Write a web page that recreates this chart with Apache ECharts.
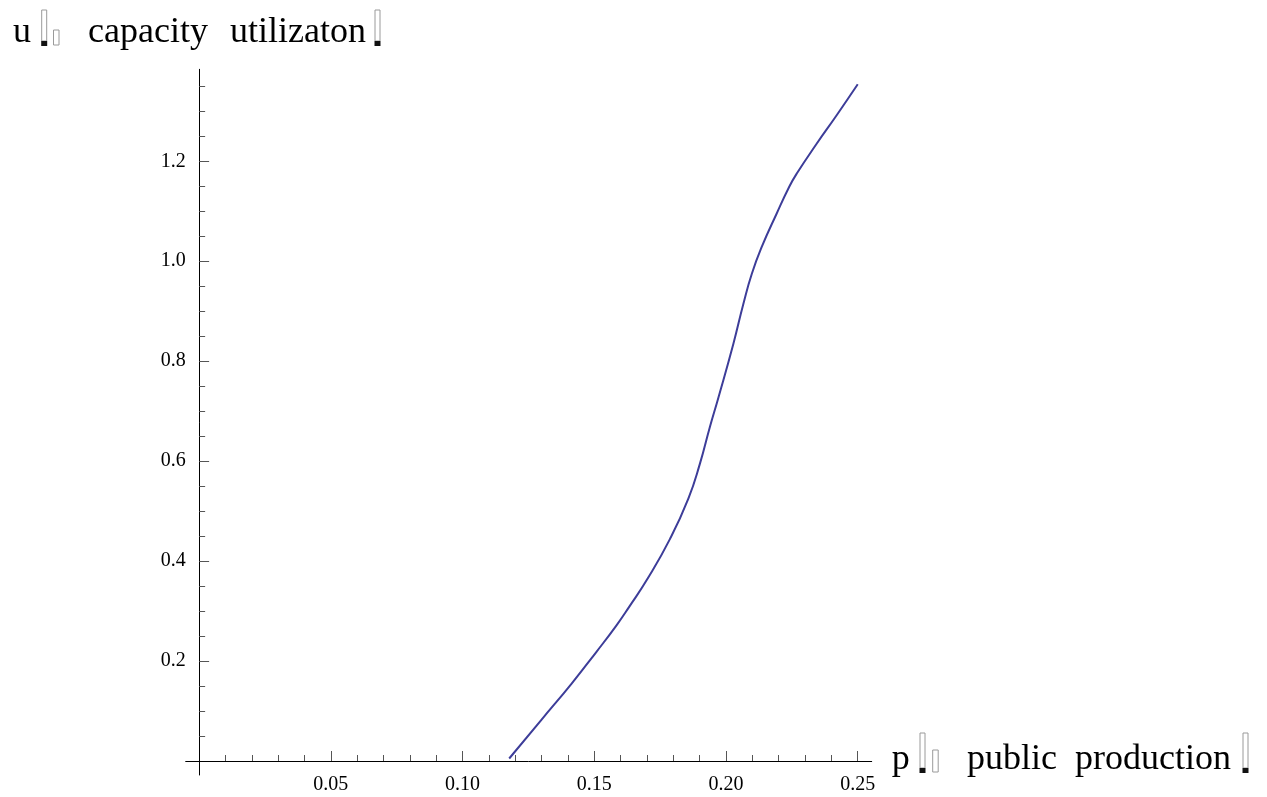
<!DOCTYPE html>
<html>
<head>
<meta charset="utf-8">
<script src="https://cdn.jsdelivr.net/npm/echarts@6/dist/echarts.min.js"></script>
<style>
html,body{margin:0;padding:0;background:#fff;}
#chart{width:1267px;height:797px;}
</style>
</head>
<body>
<div id="chart"></div>
<script>
// p (public production) and u (capacity utilization)
const pValues = [0.1177, 0.130, 0.1414, 0.1509, 0.1585, 0.1633, 0.1699, 0.1787, 0.1857, 0.1901, 0.1939, 0.1971, 0.2028, 0.2066, 0.2098, 0.2136, 0.2192, 0.2240, 0.2268, 0.2344, 0.2420, 0.2500];
const uValues = [0.005, 0.083, 0.155, 0.219, 0.272, 0.309, 0.362, 0.444, 0.525, 0.595, 0.669, 0.727, 0.835, 0.915, 0.975, 1.029, 1.095, 1.149, 1.175, 1.235, 1.292, 1.354];
const xMajorTicks = [0.05, 0.10, 0.15, 0.20, 0.25];
const xMinorTicks = [0.01, 0.02, 0.03, 0.04, 0.06, 0.07, 0.08, 0.09, 0.11, 0.12, 0.13, 0.14, 0.16, 0.17, 0.18, 0.19, 0.21, 0.22, 0.23, 0.24];
const yMajorTicks = [0.2, 0.4, 0.6, 0.8, 1.0, 1.2];
const yMinorTicks = [0.05, 0.1, 0.15, 0.25, 0.3, 0.35, 0.45, 0.5, 0.55, 0.65, 0.7, 0.75, 0.85, 0.9, 0.95, 1.05, 1.1, 1.15, 1.25, 1.3, 1.35];
const yTitleParts = ['u', 'capacity', 'utilizaton'];
const xTitleParts = ['p', 'public', 'production'];

const chart = echarts.init(document.getElementById('chart'), null, {renderer: 'canvas'});
const FONT = '"Liberation Serif", "Times New Roman", serif';
const gridBox = {left: 185.7, right: 395.3, top: 69.3, bottom: 22, containLabel: false, outerBoundsMode: 'none'};
const xRange = {min: -0.0051, max: 0.2553};
const yRange = {min: -0.028, max: 1.384};

function tofuTall(x, yTop, h) {
  return [
    {type: 'rect', shape: {x: x, y: yTop, width: 5, height: h}, style: {fill: 'none', stroke: '#9a9a9a', lineWidth: 1}},
    {type: 'rect', shape: {x: x - 0.5, y: yTop + h, width: 6, height: 5}, style: {fill: '#111'}}
  ];
}
function tofuSmall(x, yTop, h) {
  return [{type: 'rect', shape: {x: x, y: yTop, width: 5.5, height: h}, style: {fill: 'none', stroke: '#9a9a9a', lineWidth: 1}}];
}
function word(text, x, top) {
  return {type: 'text', x: x, y: top, style: {text: text, font: '36px ' + FONT, fill: '#000', verticalAlign: 'top', textVerticalAlign: 'top'}};
}

const graphics = [].concat(
  [word(yTitleParts[0], 13, 15)],
  tofuTall(41.7, 10, 31),
  tofuSmall(53.5, 30, 15),
  [word(yTitleParts[1], 88, 15), word(yTitleParts[2], 230, 15)],
  tofuTall(375, 10, 31),
  [word(xTitleParts[0], 891.7, 742)],
  tofuTall(920, 733, 35),
  tofuSmall(932.7, 750, 22),
  [word(xTitleParts[1], 967, 742), word(xTitleParts[2], 1075, 742)],
  tofuTall(1243, 733, 35)
);

const option = {
  backgroundColor: '#fff',
  animation: false,
  grid: [
    Object.assign({}, gridBox),
    Object.assign({}, gridBox)
  ],
  xAxis: [
    {
      type: 'value', gridIndex: 0, min: xRange.min, max: xRange.max,
      splitLine: {show: false},
      axisLine: {show: true, onZero: true, lineStyle: {color: '#000', width: 1}},
      axisTick: {show: true, inside: true, length: 10, customValues: xMajorTicks, lineStyle: {color: '#555', width: 1}},
      axisLabel: {show: true, customValues: xMajorTicks, margin: 0, fontFamily: FONT, fontSize: 20, color: '#000',
        formatter: function (v) { return v.toFixed(2); }}
    },
    {
      type: 'value', gridIndex: 1, min: xRange.min, max: xRange.max,
      splitLine: {show: false},
      axisLine: {show: false, onZero: true},
      axisTick: {show: true, inside: true, length: 6, customValues: xMinorTicks, lineStyle: {color: '#555', width: 1}},
      axisLabel: {show: false}
    }
  ],
  yAxis: [
    {
      type: 'value', gridIndex: 0, min: yRange.min, max: yRange.max,
      splitLine: {show: false},
      axisLine: {show: true, onZero: true, lineStyle: {color: '#000', width: 1}},
      axisTick: {show: true, inside: true, length: 10, customValues: yMajorTicks, lineStyle: {color: '#555', width: 1}},
      axisLabel: {show: true, customValues: yMajorTicks, margin: 0, fontFamily: FONT, fontSize: 20, color: '#000',
        formatter: function (v) { return v.toFixed(1); }}
    },
    {
      type: 'value', gridIndex: 1, min: yRange.min, max: yRange.max,
      splitLine: {show: false},
      axisLine: {show: false, onZero: true},
      axisTick: {show: true, inside: true, length: 6, customValues: yMinorTicks, lineStyle: {color: '#555', width: 1}},
      axisLabel: {show: false}
    }
  ],
  graphic: graphics,
  series: [
    {
      type: 'line',
      xAxisIndex: 0, yAxisIndex: 0,
      data: pValues.map(function (p, i) { return [p, uValues[i]]; }),
      showSymbol: false,
      smooth: 0.5,
      lineStyle: {color: '#3d3d99', width: 2},
      itemStyle: {color: '#3d3d99'}
    }
  ]
};
chart.setOption(option);
</script>
</body>
</html>
